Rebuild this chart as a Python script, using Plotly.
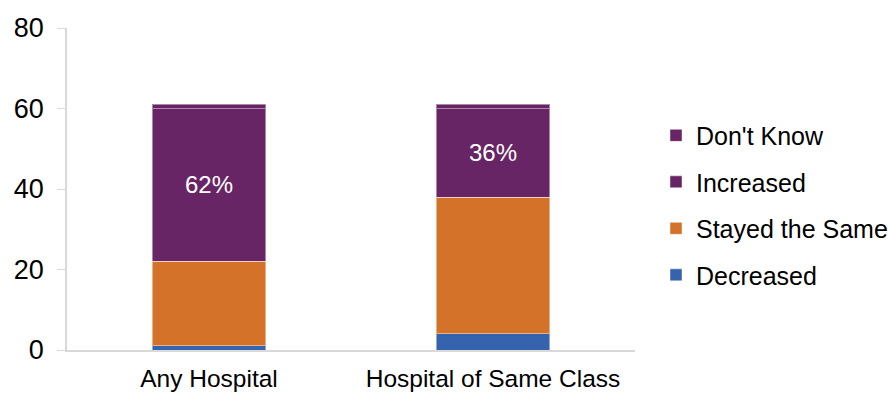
import plotly.graph_objects as go

categories = ["Any Hospital", "Hospital of Same Class"]
decreased = [1, 4]
stayed_same = [21, 34]
increased = [38, 22]
dont_know = [1, 1]
increased_labels = ["62%", "36%"]
y_ticks = [0, 20, 40, 60, 80]

FONT = "Liberation Sans"
colors = {
    "Decreased": "#3563AE",
    "Stayed the Same": "#D5722A",
    "Increased": "#682565",
    "Don't Know": "#682565",
}

W, H = 888, 394
L, T, B = 67, 28, 44
plot_w = 568
paper_w = W - L

fig = go.Figure()
series = [
    ("Decreased", decreased, None, 4),
    ("Stayed the Same", stayed_same, None, 3),
    ("Increased", increased, increased_labels, 2),
    ("Don't Know", dont_know, None, 1),
]
for name, vals, labels, rank in series:
    fig.add_trace(go.Bar(
        x=categories, y=vals, name=name,
        legendgroup=name, legendrank=rank,
        marker=dict(color=colors[name], line=dict(color="rgba(255,255,255,0.45)", width=1)),
        text=labels, textposition="inside" if labels else None,
        insidetextanchor="middle",
        textfont=dict(color="white", size=24, family=FONT),
        texttemplate="%{text}" if labels else None,
        hoverinfo="skip",
    ))

fig.update_layout(
    width=W, height=H,
    barmode="stack", bargap=0.6,
    plot_bgcolor="white", paper_bgcolor="white",
    margin=dict(l=L, r=0, t=T, b=B, autoexpand=False),
    font=dict(family=FONT, size=25, color="#000000"),
    showlegend=True,
    legend=dict(
        x=(656 - L) / paper_w, xanchor="left", y=0.45, yanchor="middle",
        traceorder="grouped", tracegroupgap=11,
        font=dict(size=25, family=FONT),
        itemwidth=30,
    ),
    uniformtext=dict(mode="show", minsize=10),
)
fig.update_xaxes(
    domain=[0, plot_w / paper_w],
    showline=True, linecolor="#d9d9d9", linewidth=1.5,
    ticks="", showgrid=False, tickfont=dict(size=24.5),
    ticklabelstandoff=6,
)
fig.update_yaxes(
    range=[0, 80], tickvals=y_ticks, showgrid=False,
    showline=True, linecolor="#d9d9d9", linewidth=1.5,
    ticks="outside", ticklen=8, tickcolor="#d9d9d9",
    tickfont=dict(size=27), zeroline=False,
    ticklabelstandoff=8,
)

fig.write_html("out.html")
